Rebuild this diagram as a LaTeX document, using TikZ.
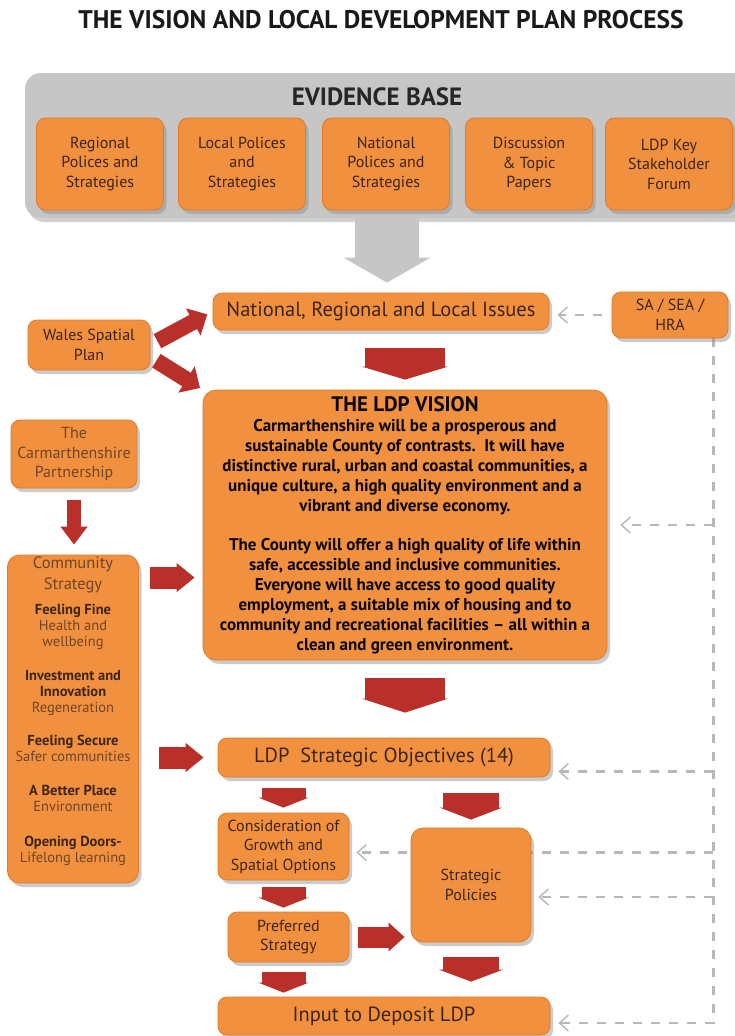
\documentclass[tikz,border=0pt]{standalone}
\usepackage{fontspec}
\setmainfont{PT Sans}
\usetikzlibrary{arrows.meta,shadows,backgrounds}
\definecolor{boxorange}{HTML}{F1903E}
\definecolor{boxedge}{HTML}{E27A28}
\definecolor{arrowred}{HTML}{B9302A}
\definecolor{basegrey}{HTML}{C6C6C6}
\definecolor{dashgrey}{HTML}{B8B8B8}
\definecolor{boxtext}{HTML}{3B2515}
\definecolor{softtext}{HTML}{6E4528}
\newcommand{\boxfont}{\fontsize{16}{19.5}\selectfont}
\newcommand{\bigfont}{\fontsize{20.5}{22}\selectfont}
\tikzset{
	box/.style={rectangle, rounded corners=9pt, fill=boxorange, draw=boxedge, line width=0.8pt, text=boxtext, align=center, inner sep=2pt, font=\boxfont, drop shadow={shadow xshift=3pt, shadow yshift=-4pt, fill=black!45, opacity=0.45}},
	redarr/.style n args={3}{draw=arrowred, line width=#1, -{Triangle[length=#2, width=#3]}},
	dashline/.style={draw=dashgrey, line width=2.2pt, dash pattern=on 9pt off 9pt},
	dasharr/.style={dashline, -{Straight Barb[length=9pt, width=16pt, line width=1.4pt]}, shorten >=8pt}
}
\begin{document}
\begin{tikzpicture}[x=1pt, y=-1pt]
	\path[use as bounding box] (0,0) rectangle (734,1036);
	\node[font=\bfseries\fontsize{25.5}{28}\selectfont, text=black!90] (title) at (381,20) {THE VISION AND LOCAL DEVELOPMENT PLAN PROCESS};
	
	\node[rectangle, rounded corners=16pt, fill=basegrey, minimum width=724pt, minimum height=145pt, drop shadow={shadow xshift=3pt, shadow yshift=-4pt, fill=black!45, opacity=0.4}] (evid) at (387,145.5) {};
	\node[font=\bfseries\fontsize{25}{28}\selectfont, text=black!85] (evtitle) at (377,97) {EVIDENCE BASE};
	\node[box, minimum width=127pt, minimum height=92pt] (regional) at (100,164) {Regional\\Polices and\\Strategies};
	\node[box, minimum width=127pt, minimum height=92pt] (local) at (242,164) {Local Polices\\and\\Strategies};
	\node[box, minimum width=127pt, minimum height=92pt] (national) at (386,164) {National\\Polices and\\Strategies};
	\node[box, minimum width=127pt, minimum height=92pt] (papers) at (529,164) {Discussion\\\& Topic\\Papers};
	\node[box, minimum width=127pt, minimum height=92pt] (forum) at (669,164) {LDP Key\\Stakeholder\\Forum};
	
	\node[box, font=\bigfont, minimum width=336pt, minimum height=37pt] (natl) at (381,311.5) {National, Regional and Local Issues};
	\node[box, minimum width=116pt, minimum height=46pt] (sa) at (670,315) {SA / SEA /\\HRA};
	\node[box, minimum width=122pt, minimum height=50pt] (wsp) at (89,345) {Wales Spatial\\Plan};
	\node[box, rounded corners=13pt, minimum width=404pt, minimum height=270pt, font=\bfseries\fontsize{17}{20}\selectfont, text=black!85!boxtext] (vision) at (405,525) {{\fontsize{21}{20}\selectfont THE LDP VISION}\\
		Carmarthenshire will be a prosperous and\\
		sustainable County of contrasts.\ \ It will have\\
		distinctive rural, urban and coastal communities, a\\
		unique culture, a high quality environment and a\\
		vibrant and diverse economy.\\[19pt]
		The County will offer a high quality of life within\\
		safe, accessible and inclusive communities.\\
		Everyone will have access to good quality\\
		employment, a suitable mix of housing and to\\
		community and recreational facilities -- all within a\\
		clean and green environment.};
	\node[box, text=softtext, minimum width=126pt, minimum height=68pt] (cp) at (74,454) {The\\Carmarthenshire\\Partnership};
	\node[box, rounded corners=12pt, minimum width=129pt, minimum height=328pt] (cs) at (73,719) {\parbox[c][324pt][t]{127pt}{\centering\fontsize{14.5}{16}\selectfont
		{\color{softtext}\fontsize{16.5}{16}\selectfont Community\\[5pt]Strategy}\\[9pt]
		\textbf{Feeling Fine}\\{\color{softtext}Health and\\wellbeing}\\[18pt]
		\textbf{Investment and}\\\textbf{Innovation}\\{\color{softtext}Regeneration}\\[17pt]
		\textbf{Feeling Secure}\\{\color{softtext}Safer communities}\\[18pt]
		\textbf{A Better Place}\\{\color{softtext}Environment}\\[19pt]
		\textbf{Opening Doors-}\\{\color{softtext}Lifelong learning}}};
	\node[box, font=\bigfont, minimum width=332pt, minimum height=39pt] (obj) at (384,757.5) {LDP\ \ Strategic Objectives (14)};
	\node[box, minimum width=131pt, minimum height=67pt] (cons) at (283.5,846.5) {Consideration of\\Growth and\\Spatial Options};
	\node[box, rounded corners=12pt, minimum width=120pt, minimum height=114pt] (sp) at (471,885) {Strategic\\Policies};
	\node[box, minimum width=121pt, minimum height=50pt] (pref) at (288.5,937) {Preferred\\Strategy};
	\node[box, font=\bigfont, minimum width=332pt, minimum height=38pt] (inp) at (384,1016) {Input to Deposit LDP};
	
	\draw[draw=basegrey, line width=64pt, -{Triangle[length=25pt, width=86pt]}, shorten >=10pt] (evid.south) -- (evid.south |- natl.north);
	\draw[redarr={16pt}{16pt}{30pt}, shorten <=8pt, shorten >=6pt] (wsp.east) -- (natl.west);
	\draw[redarr={16pt}{16pt}{30pt}, shorten <=7pt, shorten >=3pt] ([yshift=-12pt]wsp.east) -- (vision.north west);
	\draw[redarr={80pt}{13pt}{86pt}, shorten <=18pt, shorten >=10pt] (natl.south -| vision.north) -- (vision.north);
	\draw[redarr={14pt}{18pt}{26pt}, shorten <=12pt, shorten >=10pt] (cp.south) -- (cp.south |- cs.north);
	\coordinate (csv) at ([yshift=-23pt]cs.north east);
	\draw[redarr={22pt}{18pt}{28pt}, shorten <=11pt, shorten >=8pt] (csv) -- (csv -| vision.west);
	\draw[redarr={22pt}{18pt}{28pt}, shorten <=20pt, shorten >=14pt] (obj.west -| cs.east) -- (obj.west);
	\draw[redarr={80pt}{14pt}{86pt}, shorten <=18pt, shorten >=25pt] (vision.south) -- (vision.south |- obj.north);
	\draw[redarr={44pt}{10pt}{50pt}, shorten <=11pt, shorten >=5pt] (cons.north |- obj.south) -- (cons.north);
	\draw[redarr={56pt}{12pt}{62pt}, shorten <=16pt, shorten >=8pt] (sp.north |- obj.south) -- (sp.north);
	\draw[redarr={44pt}{10pt}{50pt}, shorten <=7pt, shorten >=4pt] (cons.south) -- (cons.south |- pref.north);
	\draw[redarr={21pt}{16pt}{28pt}, shorten <=9pt, shorten >=6pt] (pref.east) -- (pref.east -| sp.west);
	\draw[redarr={44pt}{10pt}{50pt}, shorten <=10pt, shorten >=4pt] (cons.south |- pref.south) -- (cons.south |- inp.north);
	\draw[redarr={56pt}{12pt}{64pt}, shorten <=15pt, shorten >=15pt] (sp.south) -- (sp.south |- inp.north);
	
	\coordinate (r) at ([xshift=-15pt]sa.south east);
	\coordinate (kv) at (vision.east);
	\coordinate (ko) at ([yshift=-14pt]obj.east);
	\coordinate (kc) at ([yshift=-6pt]cons.east);
	\coordinate (ks) at ([yshift=-12pt]sp.east);
	\coordinate (ki) at ([yshift=-7pt]inp.east);
	\begin{scope}[on background layer]
		\fill[white] (0,0) rectangle (734,1036);
		\draw[dasharr, shorten <=10pt] (sa.west) -- (sa.west -| natl.east);
		\draw[dasharr] (r) -- (r |- ki) -- (ki);
		\draw[dasharr, shorten >=13pt] (r |- kv) -- (kv);
		\draw[dasharr] (r |- ko) -- (ko);
		\draw[dasharr, shorten >=7pt] (r |- kc) -- (kc);
		\draw[dasharr, shorten >=7pt] (r |- ks) -- (ks);
	\end{scope}
\end{tikzpicture}
\end{document}
